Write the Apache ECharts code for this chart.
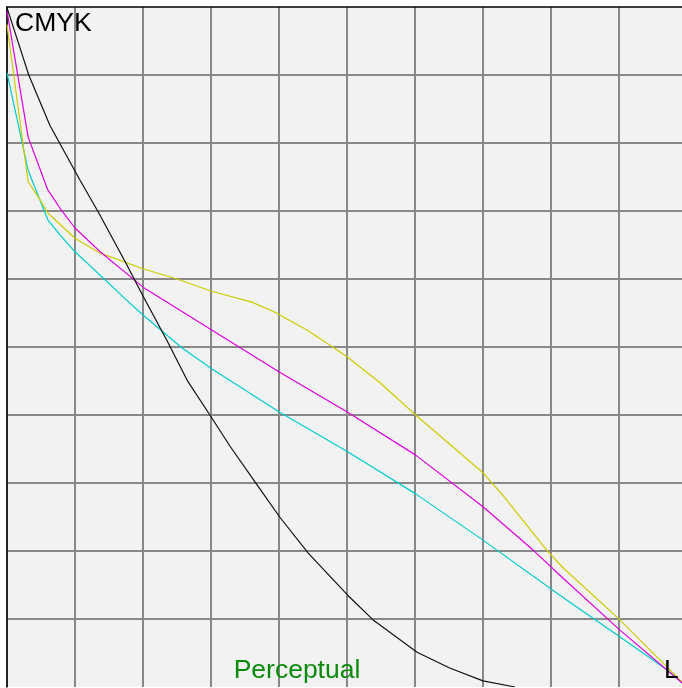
<!DOCTYPE html>
<html>
<head>
<meta charset="utf-8">
<script src="https://cdn.jsdelivr.net/npm/echarts@6/dist/echarts.min.js"></script>
<style>html,body{margin:0;padding:0;background:#fff;overflow:hidden;width:682px;height:688px;}#c{width:700px;height:688px;}</style>
</head>
<body>
<div id="c"></div>
<script>
// Axis ranges (input L on x, output amount on y), 10 grid divisions
const axisMin = 0, axisMax = 100, axisStep = 10;

// Curve samples [x, y]
const blackK = [[0,99.9],[3.2,90.0],[6.3,82.6],[10.7,74.6],[13.4,69.9],[17.4,62.5],[20.0,57.5],[23.5,51.0],[26.5,45.1],[30.1,39.6],[32.8,35.4],[36.8,29.7],[40.1,25.0],[44.3,19.7],[50.1,13.5],[53.8,9.9],[60.3,5.1],[65.1,2.8],[70.0,0.9],[74.7,0]];
const magentaM = [[0,99.4],[3.1,80.9],[6.0,73.1],[7.8,70.4],[10.0,67.5],[13.7,64.0],[20.0,58.8],[30.1,52.5],[40.1,46.3],[50.1,40.4],[60.1,34.1],[70.0,26.5],[77.4,20.1],[82.1,15.7],[90.1,8.4],[100,0]];
const yellowY = [[0,97.4],[3.1,74.3],[4.9,71.6],[6.0,69.7],[10.0,66.0],[13.7,63.8],[20.0,61.5],[25.0,60.0],[30.1,58.2],[36.0,56.6],[39.4,55.1],[44.1,52.5],[47.9,50.0],[50.1,48.5],[54.9,44.7],[60.1,40.0],[70.0,31.5],[72.9,28.2],[79.4,20.1],[81.8,17.5],[90.1,9.9],[100,0]];
const cyanC = [[0,90.3],[3.1,76.0],[6.0,68.7],[7.8,66.5],[10.0,64.0],[17.6,56.9],[20.0,54.7],[25.7,49.9],[30.1,46.8],[40.1,40.4],[50.1,34.6],[60.1,28.4],[70.0,21.6],[81.3,13.5],[90.1,7.4],[97.1,2.5],[100,0]];

const titleTop = 'CMYK';
const titleBottom = 'Perceptual';
const titleRight = 'L';

const chart = echarts.init(document.getElementById('c'), null, {renderer: 'canvas'});
const font = "'Liberation Sans', Arial, sans-serif";
function axis(pos, showLine) {
  return {
    type: 'value', min: axisMin, max: axisMax, interval: axisStep, position: pos,
    axisLabel: {show: false}, axisTick: {show: false},
    axisLine: {show: showLine, onZero: false, lineStyle: {color: '#000', width: 1.5}},
    splitLine: {show: true, showMinLine: pos !== 'left', showMaxLine: false, lineStyle: {color: '#888', width: 2}}
  };
}
function line(data, color) {
  return {type: 'line', data: data, showSymbol: false, symbol: 'none', silent: true,
    lineStyle: {color: color, width: 1.2}, z: 3, animation: false};
}
chart.setOption({
  animation: false,
  backgroundColor: '#fff',
  grid: {left: 7, top: 7, width: 680, height: 680, show: true, backgroundColor: '#f2f2f2', borderWidth: 0, containLabel: false},
  xAxis: axis('top', true),
  yAxis: axis('left', true),
  series: [
    line(cyanC, '#00cccc'),
    line(yellowY, '#cccc00'),
    line(magentaM, '#dd00dd'),
    line(blackK, '#111')
  ],
  graphic: [
    {type: 'text', left: 15, top: 10, z: 10, style: {text: titleTop, font: '26.5px ' + font, fill: '#000'}},
    {type: 'text', x: 297, y: 671, z: 10, style: {text: titleBottom, font: '26.5px ' + font, fill: '#0a8a0a', textAlign: 'center', textVerticalAlign: 'middle'}},
    {type: 'text', x: 664, y: 671, z: 10, style: {text: titleRight, font: '26.5px ' + font, fill: '#000', textAlign: 'left', textVerticalAlign: 'middle'}}
  ]
});
</script>
</body>
</html>
